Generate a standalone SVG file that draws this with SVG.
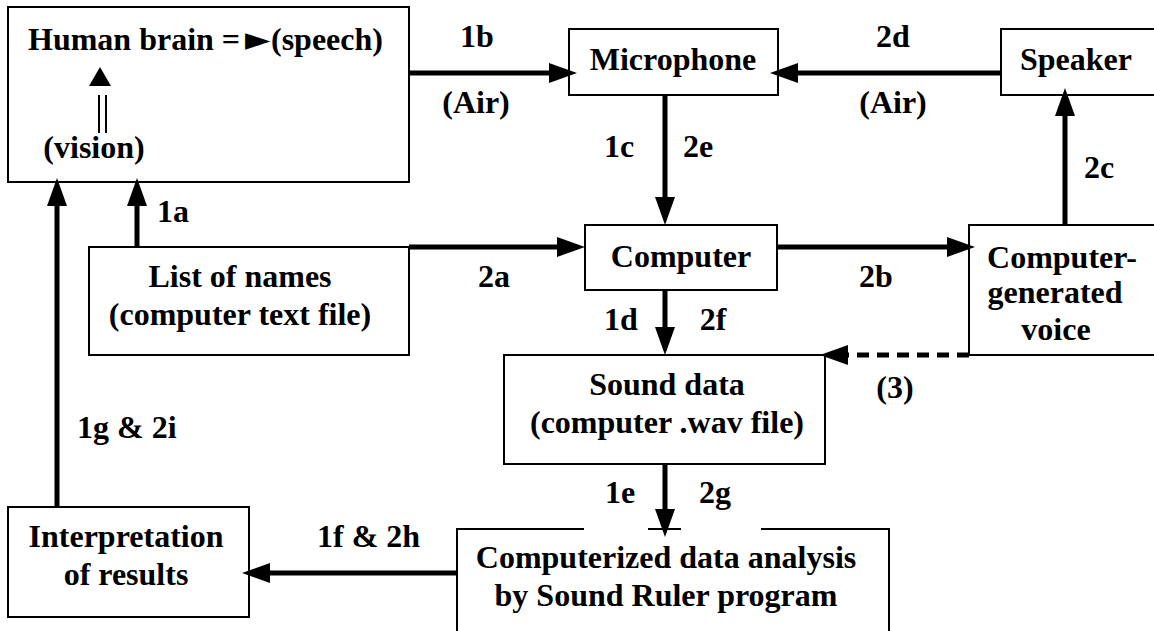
<svg xmlns="http://www.w3.org/2000/svg" width="1154" height="631" viewBox="0 0 1154 631">
  <style>
    .box { fill: #fff; stroke: #000; stroke-width: 2; }
    .edge { fill: none; stroke: #000; stroke-width: 2; }
    .t { font-weight: bold; font-size: 32px; fill: #000; }
    .c { text-anchor: middle; }
    .wire { fill: none; stroke: #000; stroke-width: 5; }
    .dash { stroke-dasharray: 12 8; }
  </style>
  <defs>
    <marker id="head" viewBox="0 0 28 20" refX="0" refY="10" markerWidth="28" markerHeight="20" markerUnits="userSpaceOnUse" orient="auto">
      <path d="M0,0 L28,10 L0,20 Z" fill="#000"/>
    </marker>
  </defs>
  <rect width="1154" height="631" fill="#fff"/>

  <g font-family="'Liberation Serif', 'Times New Roman', 'DejaVu Serif', serif">
  <!-- nodes -->
  <g id="brain">
    <rect class="box" x="8" y="7" width="401" height="175"/>
    <text class="t" y="50"><tspan x="28">Human brain =</tspan><tspan x="245" font-family="'DejaVu Sans', sans-serif" font-size="33px">►</tspan><tspan x="271">(speech)</tspan></text>
    <polygon points="100,67 89,86 111,86" fill="#000"/>
    <line x1="99" y1="95" x2="99" y2="133" stroke="#000" stroke-width="2"/>
    <line x1="106" y1="95" x2="106" y2="133" stroke="#000" stroke-width="2"/>
    <text class="t c" x="94" y="158">(vision)</text>
  </g>
  <g id="microphone">
    <rect class="box" x="569" y="29" width="209" height="66"/>
    <text class="t c" x="673" y="70">Microphone</text>
  </g>
  <g id="speaker">
    <rect class="box" x="1001" y="29" width="160" height="66"/>
    <text class="t c" x="1076" y="70">Speaker</text>
  </g>
  <g id="computer">
    <rect class="box" x="585" y="225" width="192" height="65"/>
    <text class="t c" x="681" y="267">Computer</text>
  </g>
  <g id="names">
    <rect class="box" x="89" y="247" width="320" height="108"/>
    <text class="t c" x="240" y="287">List of names</text>
    <text class="t c" x="240" y="325">(computer text file)</text>
  </g>
  <g id="voice">
    <rect class="box" x="969" y="225" width="192" height="130"/>
    <text class="t c" x="1062" y="268">Computer-</text>
    <text class="t c" x="1055" y="303">generated</text>
    <text class="t c" x="1056" y="340">voice</text>
  </g>
  <g id="sound">
    <rect class="box" x="504" y="355" width="321" height="109"/>
    <text class="t c" x="667" y="395">Sound data</text>
    <text class="t c" x="667" y="433">(computer .wav file)</text>
  </g>
  <g id="analysis">
    <rect x="457" y="529" width="432" height="110" fill="#fff"/>
    <path class="edge" d="M584,529 H457 V640 M889,640 V529 H761 M648,529 H681"/>
    <text class="t c" x="666" y="568">Computerized data analysis</text>
    <text class="t c" x="666" y="606">by Sound Ruler program</text>
  </g>
  <g id="results">
    <rect class="box" x="8" y="507" width="241" height="110"/>
    <text class="t c" x="126" y="547">Interpretation</text>
    <text class="t c" x="126" y="585">of results</text>
  </g>

  <!-- connectors -->
  <g id="connectors">
    <path class="wire" d="M409,73 H549" marker-end="url(#head)"/>
    <path class="wire" d="M1001,73 H798" marker-end="url(#head)"/>
    <path class="wire" d="M665,95 V197" marker-end="url(#head)"/>
    <path class="wire" d="M409,247 H557" marker-end="url(#head)"/>
    <path class="wire" d="M777,247 H947" marker-end="url(#head)"/>
    <path class="wire" d="M1065,225 V116" marker-end="url(#head)"/>
    <path class="wire" d="M665,290 V327" marker-end="url(#head)"/>
    <path class="wire dash" d="M969,355 H848" marker-end="url(#head)"/>
    <path class="wire" d="M665,464 V509" marker-end="url(#head)"/>
    <path class="wire" d="M457,573 H270" marker-end="url(#head)"/>
    <path class="wire" d="M57,507 V206" marker-end="url(#head)"/>
    <path class="wire" d="M137,247 V206" marker-end="url(#head)"/>
    <line x1="969" y1="225" x2="969" y2="355" stroke="#000" stroke-width="2"/>

    <text class="t c" x="477" y="47">1b</text>
    <text class="t c" x="476" y="113">(Air)</text>
    <text class="t c" x="893" y="47">2d</text>
    <text class="t c" x="893" y="113">(Air)</text>
    <text class="t c" x="619" y="157">1c</text>
    <text class="t c" x="698" y="157">2e</text>
    <text class="t" x="157" y="222">1a</text>
    <text class="t c" x="494" y="287">2a</text>
    <text class="t c" x="876" y="287">2b</text>
    <text class="t c" x="1099" y="178">2c</text>
    <text class="t c" x="621" y="330">1d</text>
    <text class="t c" x="713" y="330">2f</text>
    <text class="t c" x="895" y="398">(3)</text>
    <text class="t c" x="620" y="503">1e</text>
    <text class="t c" x="715" y="503">2g</text>
    <text class="t" x="77" y="438">1g &amp; 2i</text>
    <text class="t" x="317" y="547">1f &amp; 2h</text>
  </g>
  </g>
</svg>
